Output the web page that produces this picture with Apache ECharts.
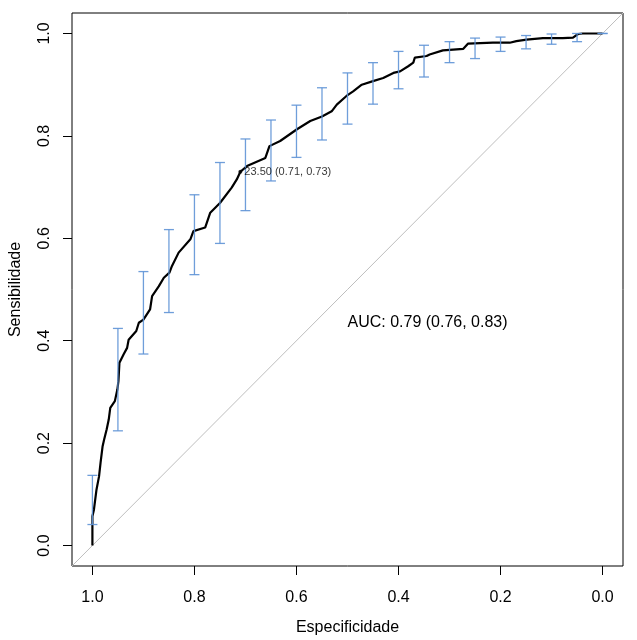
<!DOCTYPE html>
<html>
<head>
<meta charset="utf-8">
<script src="https://cdn.jsdelivr.net/npm/echarts@6/dist/echarts.min.js"></script>
<style>
  html, body { margin: 0; padding: 0; background: #fff; }
  #chart { width: 637px; height: 640px; }
</style>
</head>
<body>
<div id="chart"></div>
<script>
// ROC curve (specificity, sensitivity)
const rocSpec = [1.0, 1.0, 0.997, 0.992, 0.987, 0.984, 0.980, 0.977, 0.972, 0.968, 0.965, 0.956, 0.951, 0.949, 0.947, 0.939, 0.932, 0.929, 0.914, 0.909, 0.900, 0.887, 0.883, 0.870, 0.860, 0.849, 0.844, 0.831, 0.808, 0.802, 0.779, 0.769, 0.750, 0.727, 0.717, 0.710, 0.697, 0.661, 0.653, 0.632, 0.599, 0.573, 0.550, 0.531, 0.521, 0.502, 0.489, 0.472, 0.450, 0.430, 0.410, 0.397, 0.381, 0.371, 0.368, 0.345, 0.339, 0.313, 0.273, 0.264, 0.215, 0.182, 0.169, 0.149, 0.117, 0.078, 0.058, 0.048, 0.039, 0.0];
const rocSens = [0.0, 0.057, 0.070, 0.109, 0.135, 0.162, 0.194, 0.207, 0.227, 0.246, 0.269, 0.282, 0.305, 0.321, 0.357, 0.373, 0.386, 0.402, 0.419, 0.435, 0.441, 0.461, 0.487, 0.506, 0.523, 0.533, 0.546, 0.572, 0.598, 0.614, 0.621, 0.650, 0.669, 0.699, 0.715, 0.730, 0.741, 0.757, 0.780, 0.790, 0.813, 0.829, 0.838, 0.848, 0.861, 0.878, 0.887, 0.900, 0.907, 0.913, 0.923, 0.926, 0.936, 0.943, 0.953, 0.956, 0.959, 0.967, 0.970, 0.980, 0.982, 0.982, 0.985, 0.988, 0.991, 0.991, 0.992, 0.999, 1.0, 1.0];

// Confidence intervals of sensitivity at fixed specificities
const ciSpec = [1.0, 0.95, 0.9, 0.85, 0.8, 0.75, 0.7, 0.65, 0.6, 0.55, 0.5, 0.45, 0.4, 0.35, 0.3, 0.25, 0.2, 0.15, 0.1, 0.05, 0.0];
const ciLow  = [0.041, 0.224, 0.374, 0.455, 0.529, 0.590, 0.654, 0.712, 0.758, 0.792, 0.823, 0.862, 0.892, 0.915, 0.943, 0.951, 0.965, 0.970, 0.979, 0.984, 1.0];
const ciHigh = [0.137, 0.424, 0.535, 0.617, 0.685, 0.748, 0.794, 0.831, 0.860, 0.894, 0.923, 0.943, 0.965, 0.977, 0.984, 0.991, 0.993, 0.996, 0.999, 1.0, 1.0];

// Best threshold
const thresholdPoint = [0.71, 0.73];
const thresholdLabel = '23.50 (0.71, 0.73)';

// AUC text
const aucLabel = 'AUC: 0.79 (0.76, 0.83)';
const aucPos = [0.5, 0.435];

// Axis ticks
const tickValues = [0, 0.2, 0.4, 0.6, 0.8, 1.0];
const axisTitleX = 'Especificidade';
const axisTitleY = 'Sensibilidade';
const diagonal = [[1.04, -0.04], [-0.04, 1.04]];

const FONT = '"Liberation Sans", Arial, Helvetica, sans-serif';
const chart = echarts.init(document.getElementById('chart'), null, { renderer: 'canvas' });

const rocData = rocSpec.map((s, i) => [s, rocSens[i]]);
const ciData = ciSpec.map((s, i) => [s, ciLow[i], ciHigh[i]]);

const option = {
  animation: false,
  backgroundColor: '#ffffff',
  grid: {
    left: 72, right: 14, top: 13, bottom: 74,
    containLabel: false, outerBoundsMode: 'none',
    show: true, borderColor: '#000', borderWidth: 1, backgroundColor: 'transparent'
  },
  xAxis: {
    type: 'value', inverse: true, min: -0.04, max: 1.04,
    name: axisTitleX, nameLocation: 'middle', nameGap: 54,
    nameTextStyle: { fontSize: 16, color: '#000', fontFamily: FONT },
    axisLine: { show: false, onZero: false },
    splitLine: { show: false },
    axisTick: { show: true, length: 9, customValues: tickValues, lineStyle: { color: '#000', width: 1 } },
    axisLabel: { customValues: tickValues, fontSize: 16, color: '#000', fontFamily: FONT, margin: 24,
      formatter: v => v.toFixed(1) }
  },
  yAxis: {
    type: 'value', min: -0.04, max: 1.04,
    name: axisTitleY, nameLocation: 'middle', nameGap: 48,
    nameTextStyle: { fontSize: 16, color: '#000', fontFamily: FONT },
    axisLine: { show: false, onZero: false },
    splitLine: { show: false },
    axisTick: { show: true, length: 9, customValues: tickValues, lineStyle: { color: '#000', width: 1 } },
    axisLabel: { customValues: tickValues, fontSize: 16, color: '#000', fontFamily: FONT, margin: 19, rotate: 90,
      formatter: v => v.toFixed(1) }
  },
  series: [
    {
      type: 'line', data: diagonal, symbol: 'none', silent: true,
      lineStyle: { color: '#bebebe', width: 1 }, z: 1
    },
    {
      type: 'line', data: rocData, symbol: 'none', silent: true,
      lineStyle: { color: '#000', width: 2.2 }, z: 3
    },
    {
      type: 'custom', data: ciData, z: 4, silent: true,
      renderItem: function (params, api) {
        const x = api.value(0);
        const lo = api.coord([x, api.value(1)]);
        const hi = api.coord([x, api.value(2)]);
        const hw = 5;
        const style = { stroke: '#5f93d6', lineWidth: 1.3, opacity: 0.9 };
        return {
          type: 'group',
          children: [
            { type: 'line', shape: { x1: lo[0], y1: lo[1], x2: hi[0], y2: hi[1] }, style: style },
            { type: 'line', shape: { x1: lo[0] - hw, y1: lo[1], x2: lo[0] + hw, y2: lo[1] }, style: style },
            { type: 'line', shape: { x1: hi[0] - hw, y1: hi[1], x2: hi[0] + hw, y2: hi[1] }, style: style }
          ]
        };
      }
    },
    {
      type: 'scatter', data: [thresholdPoint], symbol: 'circle', symbolSize: 4, z: 5, silent: true,
      itemStyle: { color: '#000' },
      label: { show: true, position: 'right', distance: 2, formatter: thresholdLabel,
        fontSize: 11, color: '#000', fontFamily: FONT }
    }
  ]
};
chart.setOption(option);

const p = chart.convertToPixel({ gridIndex: 0 }, aucPos);
chart.setOption({
  graphic: [{
    type: 'text', x: p[0], y: p[1], silent: true,
    style: { text: aucLabel, fontSize: 16, fill: '#000', fontFamily: FONT, align: 'left', verticalAlign: 'middle' }
  }]
});
</script>
</body>
</html>
